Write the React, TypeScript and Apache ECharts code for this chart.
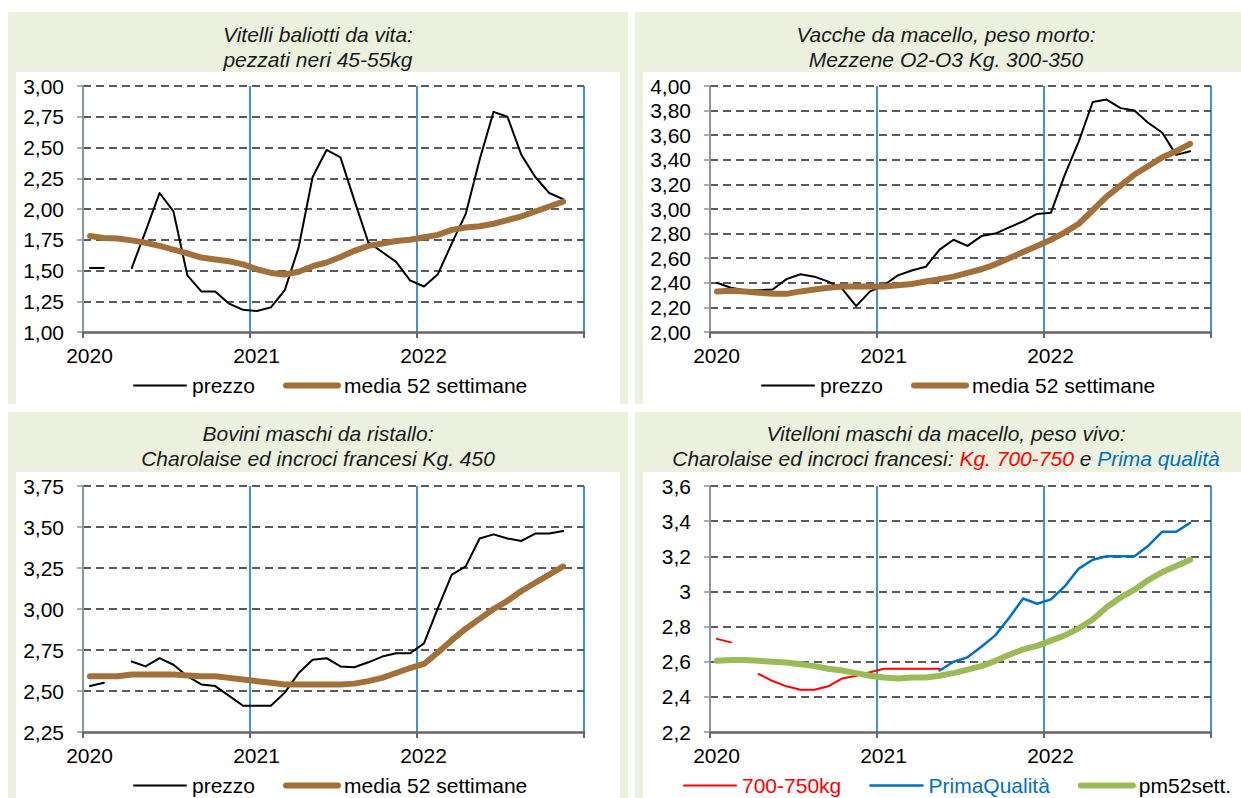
import React, { useEffect, useRef } from "react";
import * as echarts from "echarts";

// ---------- data ----------
const MONTHS = [
  "2020-01", "2020-02", "2020-03", "2020-04", "2020-05", "2020-06", "2020-07", "2020-08", "2020-09", "2020-10", "2020-11", "2020-12",
  "2021-01", "2021-02", "2021-03", "2021-04", "2021-05", "2021-06", "2021-07", "2021-08", "2021-09", "2021-10", "2021-11", "2021-12",
  "2022-01", "2022-02", "2022-03", "2022-04", "2022-05", "2022-06", "2022-07", "2022-08", "2022-09", "2022-10", "2022-11",
];
const YEAR_LABELS = ["2020", "2021", "2022", ""];

// Panel 1: Vitelli baliotti da vita
const P1_PREZZO = [
  1.52, 1.52, null, 1.52, 1.82, 2.13, 1.98, 1.46, 1.33, 1.33, 1.23, 1.18,
  1.17, 1.2, 1.34, 1.69, 2.26, 2.48, 2.42, 2.07, 1.73, 1.65, 1.57, 1.42,
  1.37, 1.47, 1.72, 1.96, 2.4, 2.79, 2.75, 2.44, 2.26, 2.13, 2.08,
];
const P1_MEDIA = [
  1.78, 1.765, 1.76, 1.745, 1.725, 1.7, 1.67, 1.64, 1.605, 1.59, 1.575, 1.55,
  1.51, 1.48, 1.467, 1.49, 1.535, 1.565, 1.61, 1.66, 1.7, 1.72, 1.74, 1.75,
  1.77, 1.79, 1.83, 1.85, 1.86, 1.88, 1.91, 1.94, 1.98, 2.02, 2.06,
];
// Panel 2: Vacche da macello
const P2_PREZZO = [
  2.4, 2.36, 2.34, 2.34, 2.345, 2.43, 2.47, 2.45, 2.41, 2.35, 2.21, 2.33,
  2.38, 2.46, 2.5, 2.53, 2.67, 2.75, 2.7, 2.78, 2.8, 2.85, 2.9, 2.96,
  2.97, 3.28, 3.55, 3.87, 3.89, 3.82, 3.8, 3.7, 3.62, 3.44, 3.47,
];
const P2_MEDIA = [
  2.33, 2.335, 2.33, 2.32, 2.31, 2.31, 2.33, 2.345, 2.36, 2.37, 2.37, 2.37,
  2.37, 2.38, 2.39, 2.41, 2.43, 2.45, 2.48, 2.51, 2.55, 2.6, 2.65, 2.7,
  2.75, 2.81, 2.88, 2.99, 3.1, 3.19, 3.28, 3.35, 3.42, 3.47, 3.53,
];
// Panel 3: Bovini maschi da ristallo
const P3_PREZZO = [
  2.53, 2.55, null, 2.68, 2.65, 2.7, 2.66, 2.59, 2.54, 2.53, 2.47, 2.41,
  2.41, 2.41, 2.49, 2.61, 2.69, 2.7, 2.65, 2.645, 2.675, 2.71, 2.73, 2.73,
  2.79, 3.005, 3.21, 3.26, 3.43, 3.455, 3.43, 3.415, 3.46, 3.46, 3.475,
];
const P3_MEDIA = [
  2.59, 2.59, 2.59, 2.6, 2.6, 2.6, 2.6, 2.595, 2.59, 2.59, 2.58, 2.57,
  2.56, 2.55, 2.54, 2.54, 2.54, 2.54, 2.54, 2.545, 2.56, 2.58, 2.61, 2.64,
  2.665, 2.735, 2.81, 2.88, 2.94, 3.0, 3.05, 3.11, 3.16, 3.21, 3.26,
];
// Panel 4: Vitelloni maschi da macello
const P4_KG700 = [
  2.73, 2.71, null, 2.53, 2.49, 2.46, 2.44, 2.44, 2.46, 2.505, 2.52, 2.54,
  2.56, 2.56, 2.56, 2.56, 2.56, null, null, null, null, null, null, null,
  null, null, null, null, null, null, null, null, null, null, null,
];
const P4_PRIMA = [
  null, null, null, null, null, null, null, null, null, null, null, null,
  null, null, null, null, 2.55, 2.6, 2.625, 2.685, 2.75, 2.85, 2.96, 2.93,
  2.955, 3.03, 3.13, 3.18, 3.2, 3.2, 3.2, 3.26, 3.34, 3.34, 3.39,
];
const P4_PM52 = [
  2.605, 2.61, 2.61, 2.605, 2.6, 2.595, 2.585, 2.575, 2.56, 2.55, 2.535, 2.52,
  2.51, 2.505, 2.51, 2.51, 2.52, 2.535, 2.555, 2.575, 2.605, 2.64, 2.67, 2.69,
  2.72, 2.75, 2.79, 2.84, 2.91, 2.965, 3.01, 3.065, 3.11, 3.145, 3.18,
];

// ---------- styles ----------
const FONT = "'Liberation Sans', Arial, sans-serif";
const GREEN_BG = "#EBF1DE";
const BROWN = "#A2713B";
const BLUE = "#0070C0";
const RED = "#FF0000";
const OLIVE = "#9BBB59";

const toXY = (arr: (number | null)[]) => MONTHS.map((_, i) => [i + 0.5, arr[i]]);

const grids = [
  { left: 83, top: 86, width: 501, height: 246 },
  { left: 710, top: 86, width: 501, height: 246 },
  { left: 83, top: 486, width: 501, height: 246 },
  { left: 710, top: 486, width: 501, height: 246 },
];

const yRanges = [
  { min: 1, max: 3, interval: 0.25, fmt: (v: number) => v.toFixed(2).replace(".", ",") },
  { min: 2, max: 4, interval: 0.2, fmt: (v: number) => v.toFixed(2).replace(".", ",") },
  { min: 2.25, max: 3.75, interval: 0.25, fmt: (v: number) => v.toFixed(2).replace(".", ",") },
  { min: 2.2, max: 3.6, interval: 0.2, fmt: (v: number) => String(parseFloat(v.toFixed(1))).replace(".", ",") },
];

function buildOption() {
  const xAxis = grids.map((_, i) => ({
    type: "value",
    gridIndex: i,
    min: 0,
    max: 36,
    interval: 12,
    axisLine: { show: true, onZero: false, lineStyle: { color: "#666666", width: 2.5 } },
    axisTick: { show: true, inside: false, length: 6, lineStyle: { color: "#666666", width: 2 } },
    axisLabel: {
      show: true,
      margin: 13,
      fontSize: 21,
      fontFamily: FONT,
      color: "#000",
      padding: [0, 0, 0, 13],
      formatter: (v: number) => YEAR_LABELS[Math.round(v / 12)] ?? "",
    },
    splitLine: { show: true, showMinLine: false, lineStyle: { color: BLUE, width: 1.5 } },
  }));
  const yAxis = grids.map((_, i) => ({
    type: "value",
    gridIndex: i,
    min: yRanges[i].min,
    max: yRanges[i].max,
    interval: yRanges[i].interval,
    axisLine: { show: true, lineStyle: { color: "#8A96A2", width: 2 } },
    axisTick: { show: true, inside: false, length: 6, lineStyle: { color: "#8A96A2", width: 1.5 } },
    axisLabel: {
      show: true,
      margin: 19,
      fontSize: 21,
      fontFamily: FONT,
      color: "#000",
      formatter: yRanges[i].fmt,
    },
    splitLine: {
      show: true,
      showMinLine: false,
      lineStyle: { color: "#5A5A5A", width: 2, type: [8, 5] },
    },
  }));

  const line = (name: string, idx: number, data: (number | null)[], color: string, width: number, z = 2) => ({
    type: "line",
    name,
    xAxisIndex: idx,
    yAxisIndex: idx,
    data: toXY(data),
    symbol: "none",
    showSymbol: false,
    connectNulls: false,
    z,
    lineStyle: { color, width, cap: "round", join: "round" },
    itemStyle: { color },
  });

  const series = [
    line("prezzo", 0, P1_PREZZO, "#000000", 2),
    line("media 52 settimane", 0, P1_MEDIA, BROWN, 6, 3),
    line("prezzo", 1, P2_PREZZO, "#000000", 2),
    line("media 52 settimane", 1, P2_MEDIA, BROWN, 6, 3),
    line("prezzo", 2, P3_PREZZO, "#000000", 2),
    line("media 52 settimane", 2, P3_MEDIA, BROWN, 6, 3),
    line("700-750kg", 3, P4_KG700, RED, 2),
    line("PrimaQualità", 3, P4_PRIMA, BLUE, 2.5),
    line("pm52sett.", 3, P4_PM52, OLIVE, 6, 3),
  ];

  const legendBase = {
    orient: "horizontal",
    itemWidth: 52,
    itemHeight: 14,
    itemGap: 28,
    selectedMode: false,
    lineStyle: { width: "inherit" },
    itemStyle: { color: "rgba(0,0,0,0)", borderWidth: 0, opacity: 0 },
    textStyle: { fontSize: 21, fontFamily: FONT, color: "#000", padding: [0, 0, 0, 1] },
  };
  const legend = [
    { ...legendBase, left: 128, top: 370, data: ["prezzo", "media 52 settimane"] },
    { ...legendBase, left: 756, top: 370, data: ["prezzo", "media 52 settimane"] },
    { ...legendBase, left: 128, top: 770, data: ["prezzo", "media 52 settimane"] },
    {
      ...legendBase,
      left: 678,
      top: 770,
      data: [
        { name: "700-750kg", textStyle: { color: RED } },
        { name: "PrimaQualità", textStyle: { color: BLUE } },
        { name: "pm52sett.", textStyle: { color: "#000" } },
      ],
    },
  ];

  const rect = (x: number, y: number, w: number, h: number, fill: string, z: number) => ({
    type: "rect",
    silent: true,
    z,
    shape: { x, y, width: w, height: h },
    style: { fill },
  });
  const titleFont = `italic 21px ${FONT}`;
  const title = (x: number, y: number, text: string) => ({
    type: "text",
    x,
    y,
    z: 100,
    silent: true,
    style: { text, font: titleFont, fill: "#1a1a1a", align: "center", verticalAlign: "middle" },
  });

  const graphic = [
    rect(8, 12, 620, 392, GREEN_BG, -20),
    rect(16, 72, 604, 332, "#FFFFFF", -19),
    rect(635, 12, 606, 392, GREEN_BG, -20),
    rect(643, 72, 598, 332, "#FFFFFF", -19),
    rect(8, 412, 620, 386, GREEN_BG, -20),
    rect(16, 472, 604, 326, "#FFFFFF", -19),
    rect(635, 412, 606, 386, GREEN_BG, -20),
    rect(643, 472, 598, 326, "#FFFFFF", -19),
    title(318, 34, "Vitelli baliotti da vita:"),
    title(318, 59, "pezzati neri 45-55kg"),
    title(946, 34, "Vacche da macello, peso morto:"),
    title(946, 59, "Mezzene O2-O3 Kg. 300-350"),
    title(318, 433, "Bovini maschi da ristallo:"),
    title(318, 458, "Charolaise ed incroci francesi Kg. 450"),
    title(946, 433, "Vitelloni maschi da macello, peso vivo:"),
    {
      type: "text",
      x: 946,
      y: 458,
      z: 100,
      silent: true,
      style: {
        text: "{k|Charolaise ed incroci francesi: }{r|Kg. 700-750}{k| e }{b|Prima qualità}",
        align: "center",
        verticalAlign: "middle",
        font: titleFont,
        rich: {
          k: { fill: "#1a1a1a", font: titleFont, fontStyle: "italic", fontSize: 21, fontFamily: FONT },
          r: { fill: RED, font: titleFont, fontStyle: "italic", fontSize: 21, fontFamily: FONT },
          b: { fill: BLUE, font: titleFont, fontStyle: "italic", fontSize: 21, fontFamily: FONT },
        },
      },
    },
  ];

  return {
    animation: false,
    backgroundColor: "#FFFFFF",
    grid: grids.map((g) => ({ ...g, show: false, containLabel: false })),
    xAxis,
    yAxis,
    legend,
    series,
    graphic,
  };
}

export default function App() {
  const ref = useRef<HTMLDivElement | null>(null);
  useEffect(() => {
    if (!ref.current) return;
    const chart = echarts.init(ref.current, undefined, { renderer: "svg" });
    chart.setOption(buildOption() as any);
    return () => chart.dispose();
  }, []);
  return (
    <div
      ref={ref}
      style={{ position: "absolute", left: 0, top: 0, width: 1241, height: 798 }}
    />
  );
}
